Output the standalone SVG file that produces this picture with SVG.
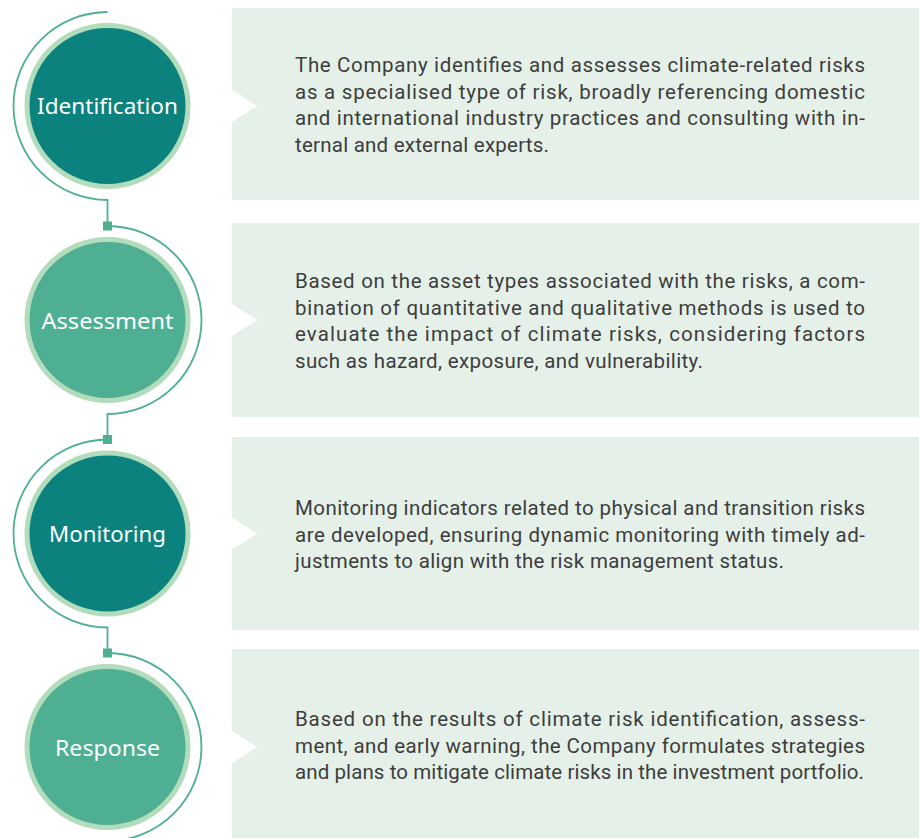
<svg xmlns="http://www.w3.org/2000/svg" width="919" height="838" viewBox="0 0 919 838">
  <style>
    .panel { fill: #E5F1E8; }
    .notch { fill: #FFFFFF; }
    .ring { stroke: #B3DCBC; stroke-width: 5; }
    .dark { fill: #0B827D; }
    .mid { fill: #4EAF93; }
    .label { font-family: "Noto Sans", "Lato", sans-serif; font-size: 21.5px; fill: #FFFFFF; text-anchor: middle; }
    .body { font-family: "Roboto", "Liberation Sans", sans-serif; font-size: 20.5px; fill: #3D3D3D; }
    .arc { fill: none; stroke: #4EAF93; stroke-width: 1.8; }
    .dot { fill: #4EAF93; }
  </style>
  <rect width="919" height="838" fill="#FFFFFF"/>

  <!-- connectors: outer arcs, joining stems and square joints -->
  <g id="connectors">
    <path class="arc" d="M107.5,12 A94,94 0 0 0 107.5,200 L107.5,226"/>
    <path class="arc" d="M107.5,226 A94,94 0 0 1 107.5,414 L107.5,439.5"/>
    <path class="arc" d="M107.5,439.5 A94,94 0 0 0 107.5,627.5 L107.5,653"/>
    <path class="arc" d="M107.5,653 A94,94 0 0 1 107.5,841"/>
    <rect class="dot" x="103" y="221.5" width="9" height="9"/>
    <rect class="dot" x="103" y="435" width="9" height="9"/>
    <rect class="dot" x="103" y="648.5" width="9" height="9"/>
  </g>

  <!-- step 1 -->
  <g id="identification">
    <circle class="ring dark" cx="107.5" cy="106" r="80.5"/>
    <text class="label" x="107.5" y="114" textLength="141" lengthAdjust="spacingAndGlyphs">Identification</text>
  </g>
  <g id="identification-text">
    <rect class="panel" x="232" y="8" width="687" height="192"/>
    <polygon class="notch" points="232,90 257,106 232,122"/>
    <text class="body" x="295" y="72" textLength="570" lengthAdjust="spacing">The Company identifies and assesses climate-related risks</text>
    <text class="body" x="295" y="98.5" textLength="570" lengthAdjust="spacing">as a specialised type of risk, broadly referencing domestic</text>
    <text class="body" x="295" y="125" textLength="570" lengthAdjust="spacing">and international industry practices and consulting with in-</text>
    <text class="body" x="295" y="151.5" textLength="254" lengthAdjust="spacing">ternal and external experts.</text>
  </g>

  <!-- step 2 -->
  <g id="assessment">
    <circle class="ring mid" cx="107.5" cy="320" r="80.5"/>
    <text class="label" x="107.5" y="328.5" textLength="132" lengthAdjust="spacingAndGlyphs">Assessment</text>
  </g>
  <g id="assessment-text">
    <rect class="panel" x="232" y="223" width="687" height="194"/>
    <polygon class="notch" points="232,304 257,320 232,336"/>
    <text class="body" x="295" y="288" textLength="570" lengthAdjust="spacing">Based on the asset types associated with the risks, a com-</text>
    <text class="body" x="295" y="314.5" textLength="570" lengthAdjust="spacing">bination of quantitative and qualitative methods is used to</text>
    <text class="body" x="295" y="341" textLength="570" lengthAdjust="spacing">evaluate the impact of climate risks, considering factors</text>
    <text class="body" x="295" y="367.5" textLength="408" lengthAdjust="spacing">such as hazard, exposure, and vulnerability.</text>
  </g>

  <!-- step 3 -->
  <g id="monitoring">
    <circle class="ring dark" cx="107.5" cy="533.5" r="80.5"/>
    <text class="label" x="107.5" y="542" textLength="117" lengthAdjust="spacingAndGlyphs">Monitoring</text>
  </g>
  <g id="monitoring-text">
    <rect class="panel" x="232" y="437" width="687" height="193"/>
    <polygon class="notch" points="232,517.5 257,533.5 232,549.5"/>
    <text class="body" x="295" y="515" textLength="570" lengthAdjust="spacing">Monitoring indicators related to physical and transition risks</text>
    <text class="body" x="295" y="541.5" textLength="570" lengthAdjust="spacing">are developed, ensuring dynamic monitoring with timely ad-</text>
    <text class="body" x="295" y="568" textLength="489" lengthAdjust="spacing">justments to align with the risk management status.</text>
  </g>

  <!-- step 4 -->
  <g id="response">
    <circle class="ring mid" cx="107.5" cy="747" r="80.5"/>
    <text class="label" x="107.5" y="755.5" textLength="105" lengthAdjust="spacingAndGlyphs">Response</text>
  </g>
  <g id="response-text">
    <rect class="panel" x="232" y="649" width="687" height="189"/>
    <polygon class="notch" points="232,731 257,747 232,763"/>
    <text class="body" x="295" y="726" textLength="570" lengthAdjust="spacing">Based on the results of climate risk identification, assess-</text>
    <text class="body" x="295" y="752.5" textLength="570" lengthAdjust="spacing">ment, and early warning, the Company formulates strategies</text>
    <text class="body" x="295" y="779" textLength="569" lengthAdjust="spacing">and plans to mitigate climate risks in the investment portfolio.</text>
  </g>
</svg>
